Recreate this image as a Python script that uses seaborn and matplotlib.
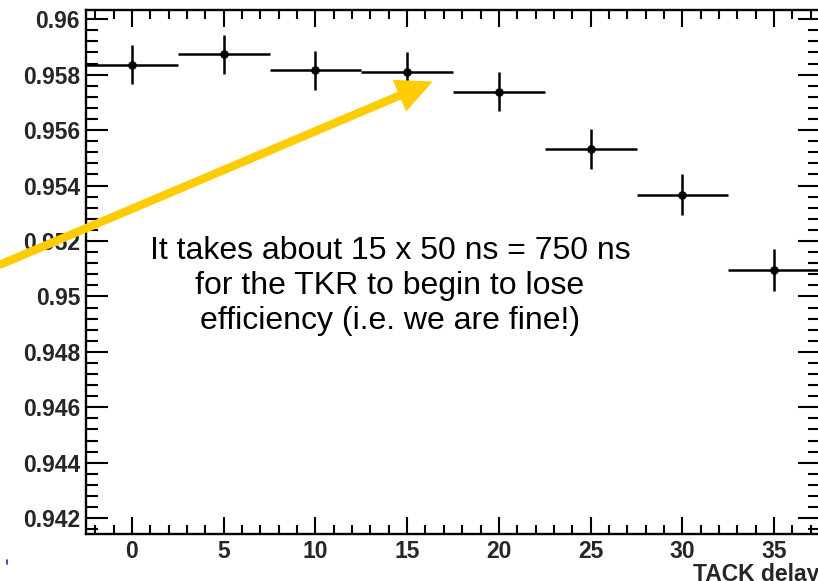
import matplotlib
matplotlib.use("Agg")
import matplotlib.pyplot as plt
import seaborn as sns
import numpy as np
import pandas as pd
from matplotlib.ticker import FixedLocator, FixedFormatter, MultipleLocator
from matplotlib.lines import Line2D

# ---- data ----
delay = [0, 5, 10, 15, 20, 25, 30, 35]
efficiency = [0.95836, 0.95873, 0.95815, 0.95811, 0.95739, 0.95531, 0.95367, 0.95095]
eff_err = [0.00071, 0.00071, 0.00071, 0.00071, 0.00069, 0.00073, 0.00075, 0.00076]
bin_half_width = [2.5, 2.5, 2.5, 2.5, 2.5, 2.5, 2.5, 2.5]
xtick_values = [0, 5, 10, 15, 20, 25, 30, 35]
xtick_labels = ["0", "5", "10", "15", "20", "25", "30", "35"]
ytick_values = [0.942, 0.944, 0.946, 0.948, 0.950, 0.952, 0.954, 0.956, 0.958, 0.960]
ytick_labels = ["0.942", "0.944", "0.946", "0.948", "0.95", "0.952", "0.954", "0.956", "0.958", "0.96"]
x_label = "TACK delay"
note = "It takes about 15 x 50 ns = 750 ns\nfor the TKR to begin to lose\nefficiency (i.e. we are fine!)"

df = pd.DataFrame({"delay": delay, "eff": efficiency, "err": eff_err, "hw": bin_half_width})

sns.set_style("ticks")
plt.rcParams["font.family"] = ["Liberation Sans", "DejaVu Sans"]

W, H = 818, 581
fig = plt.figure(figsize=(W / 100, H / 100), dpi=100)
fig.patch.set_facecolor("white")
ax = fig.add_axes([86 / W, 1 - 534 / H, (820 - 86) / W, (534 - 9.5) / H])

ax.errorbar(df["delay"], df["eff"], xerr=df["hw"], yerr=df["err"], fmt="none",
            ecolor="black", elinewidth=1.8, capsize=0, zorder=2)
sns.scatterplot(data=df, x="delay", y="eff", ax=ax, color="black", s=32,
                edgecolor="black", linewidth=0.5, zorder=3, legend=False)

ax.set_xlim(-2.5, 37.5)
ax.set_ylim(0.94143, 0.96035)
ax.set_xlabel("")
ax.set_ylabel("")

ax.xaxis.set_major_locator(FixedLocator(xtick_values))
ax.xaxis.set_major_formatter(FixedFormatter(xtick_labels))
ax.xaxis.set_minor_locator(MultipleLocator(1))
ax.yaxis.set_major_locator(FixedLocator(ytick_values))
ax.yaxis.set_major_formatter(FixedFormatter(ytick_labels))
ax.yaxis.set_minor_locator(MultipleLocator(0.0004))

ax.tick_params(which="both", direction="in", top=True, right=True, width=1.5,
               color="black", labelsize=16.5, pad=4.3)
ax.xaxis.set_tick_params(which="major", length=12.5)
ax.xaxis.set_tick_params(which="minor", length=6.5)
ax.yaxis.set_tick_params(which="major", length=16)
ax.yaxis.set_tick_params(which="minor", length=8.5)
for lab in ax.get_xticklabels() + ax.get_yticklabels():
    lab.set_fontweight("bold")
for sp in ax.spines.values():
    sp.set_linewidth(1.7)
    sp.set_color("black")

# yellow arrow
ax.annotate("", xy=(16.39, 0.95775), xytext=(-7.13, 0.95116),
            xycoords="data", textcoords="data", annotation_clip=False,
            arrowprops=dict(arrowstyle="-|>,head_length=0.8,head_width=0.38",
                            lw=6, color="#FFCC00", mutation_scale=20,
                            shrinkA=0, shrinkB=0, joinstyle="miter"),
            zorder=6)

fig.text(390 / W, 1 - 286 / H, note, ha="center", va="center", fontsize=23,
         multialignment="center", linespacing=1.22, color="black")

fig.text(693 / W, 1 - 563 / H, x_label, ha="left", va="top", fontsize=16.5,
         fontweight="bold")

fig.add_artist(Line2D([7 / W, 7 / W], [1 - 560 / H, 1 - 564 / H], color="#2020ff", lw=1.2))

fig.savefig("out.png", dpi=100, facecolor="white")
